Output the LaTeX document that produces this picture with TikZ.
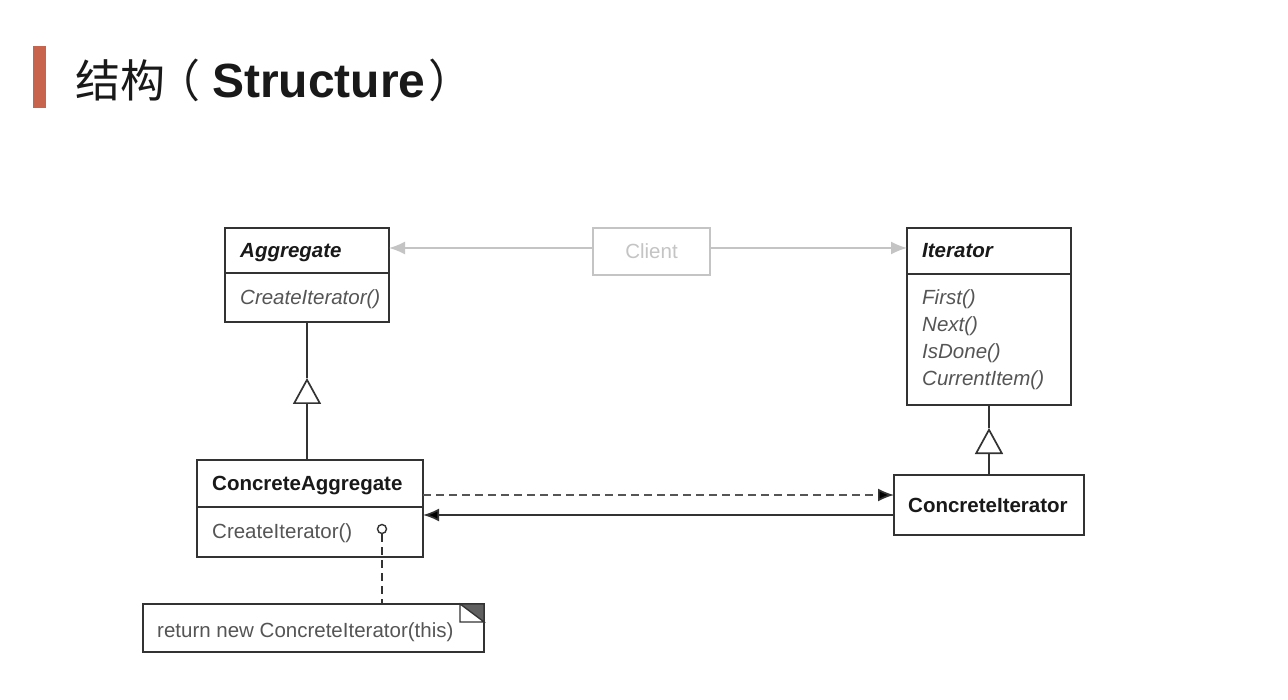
\documentclass[tikz,border=0pt]{standalone}
\usepackage{fontspec}
\setmainfont{Liberation Sans}
\newfontfamily\cjk{Noto Sans CJK SC}
\usetikzlibrary{arrows.meta}
\definecolor{accent}{HTML}{C8644E}
\definecolor{ink}{HTML}{333333}
\definecolor{meth}{HTML}{555555}
\definecolor{faint}{HTML}{C4C4C4}

\begin{document}
\begin{tikzpicture}[x=1pt,y=-1pt,
  box/.style={draw=ink,line width=1.7pt,inner sep=0pt,outer sep=0pt,anchor=north west},
  rule/.style={draw=ink,line width=1.7pt},
  txt/.style={anchor=base west,inner sep=0pt,font=\fontsize{20.5}{24}\selectfont},
  cname/.style={txt,text=black!90,font=\fontsize{20.5}{24}\selectfont\bfseries},
  aname/.style={txt,text=black!90,font=\fontsize{20.5}{24}\selectfont\bfseries\itshape},
  ameth/.style={txt,text=meth,font=\fontsize{20.5}{24}\selectfont\itshape},
  cmeth/.style={txt,text=meth},
  head/.style={-{Latex[length=16pt,width=13pt,fill=black]}},
  gen/.style={rule,-{Triangle[open,length=26pt,width=28pt,fill=white]}},
  uses/.style={draw=faint,line width=1.7pt,-{Latex[length=16pt,width=13pt,fill=faint]}}
]
\useasboundingbox (0,0) rectangle (1288,700);
\fill[white] (0,0) rectangle (1288,700);

% heading
\fill[accent] (33,46) rectangle (46,108);
\node[anchor=base west,inner sep=0pt,text=black!90] (title) at (75,98)
  {\fontsize{45}{50}\selectfont{\cjk 结构\hspace{-10pt}（}\hspace{12pt}{\fontsize{48}{50}\selectfont\bfseries Structure}\hspace{3pt}{\cjk ）}};

% Aggregate
\node[box,minimum width=164pt,minimum height=94pt] (agg) at (225,228) {};
\draw[rule] ([yshift=-45pt]agg.north west) -- ([yshift=-45pt]agg.north east);
\node[aname] (aggname) at (240,258) {Aggregate};
\node[ameth] (aggop) at (240,305) {CreateIterator()};

% Client
\node[box,draw=faint,minimum width=117pt,minimum height=47pt,
  text=faint,font=\fontsize{20.5}{24}\selectfont] (client) at (593,228) {Client};

% Iterator
\node[box,minimum width=164pt,minimum height=177pt] (it) at (907,228) {};
\draw[rule] ([yshift=-46pt]it.north west) -- ([yshift=-46pt]it.north east);
\node[aname] (itname) at (922,258) {Iterator};
\node[ameth] (itfirst) at (922,305) {First()};
\node[ameth] (itnext) at (922,332) {Next()};
\node[ameth] (itdone) at (922,359) {IsDone()};
\node[ameth] (itcur) at (922,386) {CurrentItem()};

% ConcreteAggregate
\node[box,minimum width=226pt,minimum height=97pt] (cagg) at (197,460) {};
\draw[rule] ([yshift=-47pt]cagg.north west) -- ([yshift=-47pt]cagg.north east);
\node[cname] (caggname) at (212,490) {ConcreteAggregate};
\node[cmeth] (caggop) at (212,538) {CreateIterator()};
\node[circle,draw=ink,line width=1.4pt,fill=white,minimum size=9pt,inner sep=0pt] (knob) at (382,529) {};

% ConcreteIterator
\node[box,minimum width=190pt,minimum height=60pt] (ci) at (894,475) {};
\node[cname] (ciname) at (908,512) {ConcreteIterator};

% note with folded corner
\node[inner sep=0pt,outer sep=0pt,minimum width=341pt,minimum height=48pt,anchor=north west] (note) at (143,604) {};
\draw[rule,line join=miter] (note.north west) -- (note.north east) -- (note.south east) -- (note.south west) -- cycle;
\fill[gray!75!black,draw=ink,line width=1.2pt] ([xshift=-24pt]note.north east) -- (note.north east) -- ([yshift=-18pt]note.north east) -- cycle;
\filldraw[fill=white,draw=ink,line width=1.2pt] ([xshift=-24pt]note.north east) -- ([xshift=-24pt,yshift=-18pt]note.north east) -- ([yshift=-18pt]note.north east) -- cycle;
\node[cmeth] (notetext) at (157,637) {return new ConcreteIterator(this)};

% client associations
\coordinate (cl) at ([yshift=3.5pt]client.west);
\coordinate (cr) at ([yshift=3.5pt]client.east);
\draw[uses] (cl) -- (cl -| agg.east);
\draw[uses] (cr) -- (cr -| it.west);

% generalizations
\coordinate (gtipA) at (307,378);
\draw[rule] (agg.south) -- (gtipA);
\draw[gen] (agg.south |- cagg.north) -- (gtipA);
\coordinate (gtipI) at (989,428);
\draw[rule] (it.south) -- (gtipI);
\draw[gen] (ci.north) -- (gtipI);

% creates / refers
\coordinate (dstart) at (cagg.east |- 0,495);
\draw[draw=meth,line width=1.7pt,dash pattern=on 8pt off 5pt] (dstart) -- ([xshift=-15pt]dstart -| ci.west);
\draw[rule,head] ([xshift=-16pt]dstart -| ci.west) -- (dstart -| ci.west);
\coordinate (rstart) at (ci.west |- 0,515);
\draw[rule,head] (rstart) -- (rstart -| cagg.east);

% note link
\draw[draw=ink,line width=1.7pt,dash pattern=on 8pt off 5pt] (knob.south) -- (knob.south |- note.north);
\end{tikzpicture}
\end{document}
